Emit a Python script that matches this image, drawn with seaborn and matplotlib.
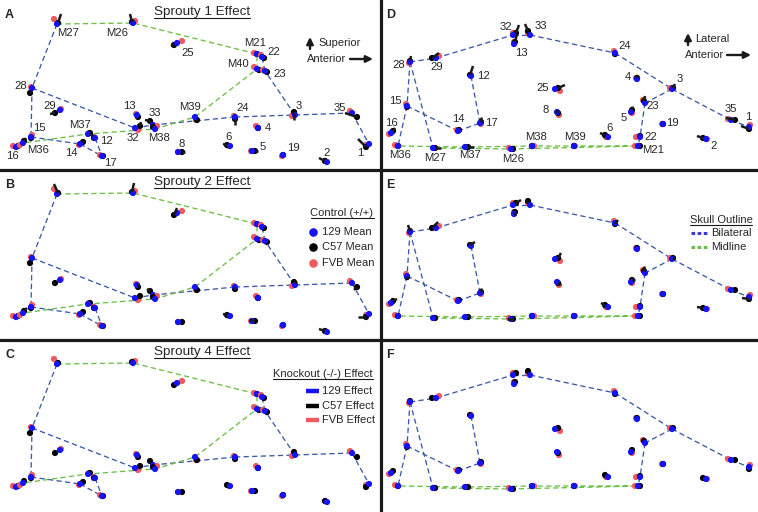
import matplotlib
matplotlib.use('Agg')
import pandas as pd
import matplotlib.pyplot as plt
from matplotlib.lines import Line2D
import seaborn as sns

sns.set_theme(style='white')
plt.rcParams['font.family'] = ['Liberation Sans', 'DejaVu Sans']

# ---- lateral view (panels A-C), pixel units inside a panel ----
lat_names = ['M27', 'M26', '25', 'M21', '22', 'M40', '23', '28', '29', '13', '33', 'M39', '24', '3', '35', '1',
             '4', '15', 'M37', '12', '32', 'M38', '16', 'M36', '14', '17', '8', '6', '5', '19', '2']
lat_x = [57, 133, 177, 257, 262, 257, 265, 32, 60, 137, 153, 195, 235, 295, 352, 369,
         258, 31, 88, 95, 135, 155, 16, 23, 80, 102, 178, 230, 252, 283, 327]
lat_y = [24, 23, 43, 54, 57, 69, 71, 88, 110, 115, 125, 117, 117, 115, 113, 144,
         128, 137, 134, 138, 128, 129, 147, 143, 144, 156, 152, 146, 151, 155, 162]
lat_lab_x = [68, 117, 188, 255, 274, 238, 280, 21, 50, 129, 155, 190, 243, 299, 340, 360,
             268, 39, 80, 106, 133, 159, 12, 38, 71, 110, 182, 229, 263, 293, 327]
lat_lab_y = [33, 33, 53, 43, 52, 64, 74, 86, 106, 106, 113, 107, 108, 106, 108, 153,
             128, 128, 125, 141, 138, 138, 156, 150, 153, 163, 144, 137, 147, 148, 153]
# strain mean offsets relative to the 129 mean
lat_red_dx = [-3, 2, 5, -3, -1, -3, -2, -1, 1, -1, 2, 1, -1, -3, -2, -3, -2, 1, 1, -1, 3, 2, -3, -3, -1, -2, 0, -1, -1, -1, -2]
lat_red_dy = [-5, -2, -2, -1, -2, -2, -1, -1, -1, -1, 2, 3, -1, 1, -2, 1, -2, -2, -1, -1, 2, -3, -1, 2, 1, -1, 0, 0, 0, 1, -1]
lat_blk_dx = [1, -1, -3, 0, 2, 2, 2, -2, -5, 1, -3, 2, 0, -1, 5, -3, 0, 0, 2, -1, 5, -2, 2, 1, 3, 1, 4, -3, 3, 0, -2]
lat_blk_dy = [-1, -1, 2, 0, 1, 1, 1, 5, 3, 2, -4, 3, 2, -3, 4, 3, 0, 1, -1, 0, -2, -2, -1, -2, -2, 0, 0, -1, 0, 0, -1]
# knockout effect vectors
vecA_dx = [3, -2, -3, 0, 0, 0, 0, 0, -5, 0, -5, 0, 0, 0, -12, -8, 0, 0, 3, 0, 1, -2, 0, 2, 2, 0, 3, -4, 3, 0, -6]
vecA_dy = [-9, -8, 1, 0, 0, 0, 0, -2, 1, 0, -1, 0, 6, 8, -4, -8, 0, 0, 3, 0, -4, -2, 0, -3, -2, 0, 0, -1, 0, 0, -3]
vecB_dx = [-4, 2, 3, 0, 1, 0, 0, 0, -3, 0, -3, 0, -2, 3, -3, -8, 0, 0, 0, 0, 0, 0, 0, 3, 0, 0, 0, -4, -5, 0, -6]
vecB_dy = [-9, -9, -7, 0, 1, 0, 0, 0, 0, -4, -2, 0, -1, 0, 3, 0, 0, 0, 0, 0, 0, 0, 0, -3, 0, 0, 0, -1, -1, 0, -2]
lat_bilateral = [('M27', '28'), ('28', '15'), ('28', '32'), ('32', '33'), ('33', '24'), ('24', '3'), ('3', '35'),
                 ('35', '1'), ('3', '23'), ('23', '22'), ('15', '14'), ('14', '17'), ('12', '17')]
lat_midline = ['M27', 'M26', 'M21', 'M40', 'M39', 'M38', 'M37', 'M36']

# ---- superior view (panels D-F) ----
sup_names = ['32', '33', '13', '28', '29', '24', '12', '4', '3', '25', '15', '8', '5', '23', '35', '1',
             '16', '14', '17', '19', '6', '22', '2', 'M36', 'M27', 'M37', 'M26', 'M38', 'M39', 'M21']
sup_x = [132, 149, 133, 29, 55, 234, 90, 256, 291, 174, 26, 176, 250, 264, 350, 368,
         10, 77, 99, 282, 227, 259, 325, 17, 52, 84, 130, 151, 193, 257]
sup_y = [35, 35, 44, 62, 58, 53, 76, 79, 89, 89, 106, 112, 112, 103, 120, 127,
         133, 131, 123, 124, 137, 137, 139, 146, 148, 147, 149, 146, 146, 146]
sup_lab_x = [125, 160, 140, 18, 56, 244, 102, 247, 299, 162, 14, 165, 243, 272, 350, 367,
             10, 77, 110, 291, 229, 270, 333, 19, 54, 89, 132, 155, 194, 272]
sup_lab_y = [27, 26, 53, 65, 67, 46, 76, 77, 79, 88, 101, 110, 118, 106, 109, 117,
             123, 119, 123, 123, 128, 137, 146, 155, 158, 155, 159, 137, 137, 150]
sup_red_dx = [0, -2, 0, -1, 3, -1, 0, -1, -2, 5, -1, 2, 1, -2, -3, 1, -2, -1, 1, -1, -2, -4, 1, -3, 2, 2, -2, 2, 1, -3]
sup_red_dy = [-2, -2, -2, 1, -2, -2, -1, -1, -1, 2, -2, 3, 1, -3, -1, -2, 1, -1, 1, 0, 0, 0, 0, -1, 0, 0, -1, 0, 0, 0]
sup_blk_dx = [3, -2, 1, 0, -4, 0, -1, 0, 1, 3, 0, 1, 1, -1, 4, 0, 2, 1, 1, 0, -3, 0, -3, 0, 2, 3, 2, 0, 0, 2]
sup_blk_dy = [-2, -4, -2, -1, 0, 1, -1, -1, -1, -1, 1, 1, -2, -2, 0, 2, -2, -1, -1, 0, -2, -1, -1, 0, 0, 0, 0, 0, 0, 0]
vecD_dx = [3, -3, 2, 1, 7, 0, 3, 1, 2, 7, 0, -1, 0, 1, -9, -8, 2, 0, 0, 0, -5, 0, -6, 0, 6, 6, 0, 0, 0, 0]
vecD_dy = [-8, -7, -8, -5, -5, 0, -9, -3, -4, -3, 0, -3, -4, -5, -2, -3, -3, 0, -5, 0, -2, 0, -2, 0, 0, 0, 0, 0, 0, 0]
vecE_dx = [5, -3, 0, -2, 6, 3, 5, 0, 2, 3, 2, 3, 3, 0, 0, -7, 4, 0, 0, 0, -4, 0, -6, 0, 0, 3, -6, 0, 0, 0]
vecE_dy = [-3, 0, 3, -6, -6, -4, -3, 0, 2, -5, 2, 2, 0, -5, 0, -1, -2, 0, -4, 0, -2, 0, -1, 0, 0, -1, 0, 0, 0, 0]
sup_bilateral = [('28', '29'), ('29', '32'), ('32', '33'), ('33', '24'), ('24', '3'), ('3', '35'), ('35', '1'),
                 ('3', '23'), ('23', '22'), ('22', 'M21'), ('28', '15'), ('28', 'M27'), ('15', 'M36'),
                 ('15', '14'), ('14', '17'), ('17', '12')]
sup_midline = ['M27', 'M26', 'M21', 'M39', 'M38', 'M37', 'M36']

strain_colors = {'129': '#1414f5', 'C57': '#000000', 'FVB': '#f05a5e'}
bil_color = '#3d5aa6'
mid_color = '#6cbf45'

W, H = 758, 512
fig = plt.figure(figsize=(W / 100, H / 100), dpi=100)
cols = [(0, 380), (381, 377)]
rows = [(0, 170), (170, 170), (340, 172)]


def make_ax(col, row):
    x0, w = cols[col]
    y0, h = rows[row]
    ax = fig.add_axes([x0 / W, 1 - (y0 + h) / H, w / W, h / H])
    ax.set_xlim(0, w)
    ax.set_ylim(h, 0)
    ax.axis('off')
    return ax


def draw_panel(ax, names, xs, ys, rdx, rdy, kdx, kdy, bil, mid, vdx=None, vdy=None, lx=None, ly=None):
    pos = {n: (x, y) for n, x, y in zip(names, xs, ys)}
    for a, b in bil:
        ax.plot([pos[a][0], pos[b][0]], [pos[a][1], pos[b][1]], color=bil_color,
                lw=0.95, ls=(0, (4, 2.5)), zorder=1)
    ax.plot([pos[n][0] for n in mid], [pos[n][1] for n in mid], color=mid_color,
            lw=0.95, ls=(0, (4, 2.5)), zorder=1)
    rows_ = []
    for i in range(len(names)):
        rows_.append((xs[i] + rdx[i], ys[i] + rdy[i], 'FVB'))
        rows_.append((xs[i] + kdx[i], ys[i] + kdy[i], 'C57'))
        rows_.append((xs[i], ys[i], '129'))
    df = pd.DataFrame(rows_, columns=['x', 'y', 'strain'])
    sns.scatterplot(data=df, x='x', y='y', hue='strain', palette=strain_colors, s=20,
                    linewidth=0, legend=False, ax=ax, zorder=3)
    if vdx is not None:
        for i in range(len(names)):
            if vdx[i] == 0 and vdy[i] == 0:
                continue
            bx, by = xs[i] + kdx[i], ys[i] + kdy[i]
            ax.plot([bx, bx + vdx[i]], [by, by + vdy[i]], color='k', lw=1.8,
                    solid_capstyle='butt', zorder=4)
    if lx is not None:
        for n, tx, ty in zip(names, lx, ly):
            ax.text(tx, ty, n, fontsize=8.1, ha='center', va='center', zorder=5)
    ax.set_xlabel('')
    ax.set_ylabel('')


underlined = []

axA = make_ax(0, 0)
axB = make_ax(0, 1)
axC = make_ax(0, 2)
axD = make_ax(1, 0)
axE = make_ax(1, 1)
axF = make_ax(1, 2)

draw_panel(axA, lat_names, lat_x, lat_y, lat_red_dx, lat_red_dy, lat_blk_dx, lat_blk_dy,
           lat_bilateral, lat_midline, vecA_dx, vecA_dy, lat_lab_x, lat_lab_y)
draw_panel(axB, lat_names, lat_x, lat_y, lat_red_dx, lat_red_dy, lat_blk_dx, lat_blk_dy,
           lat_bilateral, lat_midline, vecB_dx, vecB_dy)
draw_panel(axC, lat_names, lat_x, lat_y, lat_red_dx, lat_red_dy, lat_blk_dx, lat_blk_dy,
           lat_bilateral, lat_midline)
draw_panel(axD, sup_names, sup_x, sup_y, sup_red_dx, sup_red_dy, sup_blk_dx, sup_blk_dy,
           sup_bilateral, sup_midline, vecD_dx, vecD_dy, sup_lab_x, sup_lab_y)
draw_panel(axE, sup_names, sup_x, sup_y, sup_red_dx, sup_red_dy, sup_blk_dx, sup_blk_dy,
           sup_bilateral, sup_midline, vecE_dx, vecE_dy)
draw_panel(axF, sup_names, sup_x, sup_y, sup_red_dx, sup_red_dy, sup_blk_dx, sup_blk_dy,
           sup_bilateral, sup_midline)

# panel letters and titles
for ax, letter in zip([axA, axB, axC, axD, axE, axF], 'ABCDEF'):
    ax.text(5, 15, letter, fontsize=9, fontweight='bold', ha='left', va='center')
for ax, title in zip([axA, axB, axC], ['Sprouty 1 Effect', 'Sprouty 2 Effect', 'Sprouty 4 Effect']):
    t = ax.text(202, 12, title, fontsize=9.7, ha='center', va='center')
    underlined.append((ax, t))

# orientation arrows
arr = dict(arrowstyle='-|>', lw=1.7, color='k', mutation_scale=10, shrinkA=0, shrinkB=0)
axA.annotate('', xy=(310, 37), xytext=(310, 49), arrowprops=arr)
axA.text(318, 43, 'Superior', fontsize=8, ha='left', va='center')
axA.text(307, 59, 'Anterior', fontsize=8, ha='left', va='center')
axA.annotate('', xy=(373, 59), xytext=(350, 59), arrowprops=arr)
axD.annotate('', xy=(307, 33), xytext=(307, 45), arrowprops=arr)
axD.text(314, 39, 'Lateral', fontsize=8, ha='left', va='center')
axD.text(304, 55, 'Anterior', fontsize=8, ha='left', va='center')
axD.annotate('', xy=(370, 55), xytext=(346, 55), arrowprops=arr)

# legend in B: control means
t = axB.text(342, 43, 'Control (+/+)', fontsize=8, ha='center', va='center')
underlined.append((axB, t))
for yy, st, lab in zip([62, 77, 93], ['129', 'C57', 'FVB'], ['129 Mean', 'C57 Mean', 'FVB Mean']):
    axB.scatter([313], [yy], s=38, color=strain_colors[st], linewidth=0)
    axB.text(322, yy, lab, fontsize=8, ha='left', va='center')

# legend in C: knockout effects
t = axC.text(323, 34, 'Knockout (-/-) Effect', fontsize=8, ha='center', va='center')
underlined.append((axC, t))
for yy, st, lab in zip([51, 66, 80], ['129', 'C57', 'FVB'], ['129 Effect', 'C57 Effect', 'FVB Effect']):
    axC.plot([306, 319], [yy, yy], color=strain_colors[st], lw=3.2, solid_capstyle='butt')
    axC.text(322, yy, lab, fontsize=8, ha='left', va='center')

# legend in E: skull outline
t = axE.text(340, 50, 'Skull Outline', fontsize=8, ha='center', va='center')
underlined.append((axE, t))
for yy, c, lab in zip([63, 77], ['#3b3bd6', mid_color], ['Bilateral', 'Midline']):
    axE.plot([310, 326], [yy, yy], color=c, lw=2.2, ls=(0, (1.2, 0.8)))
    axE.text(330, yy, lab, fontsize=8, ha='left', va='center')

# underline titles
fig.canvas.draw()
for ax, t in underlined:
    bb = t.get_window_extent()
    inv = ax.transData.inverted()
    x0, y0 = inv.transform((bb.x0, bb.y0))
    x1, _ = inv.transform((bb.x1, bb.y0))
    ax.plot([x0, x1], [y0 - 0.5, y0 - 0.5], color='k', lw=0.8)

# panel separators
fig.add_artist(Line2D([0, 1], [1 - 170 / H, 1 - 170 / H], color='k', lw=2.3, transform=fig.transFigure))
fig.add_artist(Line2D([0, 1], [1 - 340 / H, 1 - 340 / H], color='k', lw=2.3, transform=fig.transFigure))
fig.add_artist(Line2D([381 / W, 381 / W], [0, 1], color='k', lw=2.3, transform=fig.transFigure))

fig.savefig('out.png', dpi=100)
